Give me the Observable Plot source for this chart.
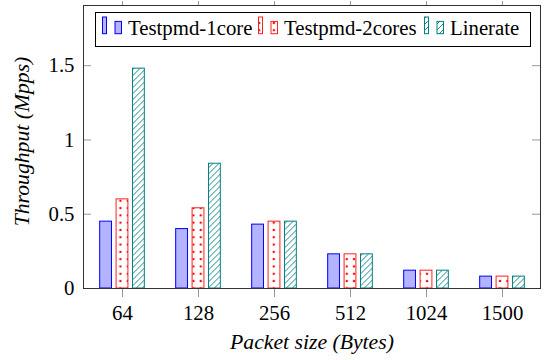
<!DOCTYPE html>
<html><head><meta charset="utf-8">
<script src="https://cdn.jsdelivr.net/npm/d3@7"></script>
<script src="https://cdn.jsdelivr.net/npm/@observablehq/plot@0.6"></script>
<style>
body{margin:0;background:#fff;}
#wrap{position:relative;width:546px;height:360px;font-family:'Liberation Serif';}
#wrap svg text{font-family:'Liberation Serif';}
#legend{position:absolute;left:95px;top:12px;}
</style></head><body>
<svg width="0" height="0" style="position:absolute">
<defs>
<pattern id="dots" patternUnits="userSpaceOnUse" width="7.3" height="7.3"><circle cx="3.65" cy="3.65" r="1.25" fill="#ff0000"/></pattern>
<pattern id="nelines" patternUnits="userSpaceOnUse" width="6" height="6"><path d="M-1.5,1.5 l3,-3 M0,6 l6,-6 M4.5,7.5 l3,-3" stroke="#008080" stroke-width="0.9"/></pattern>
</defs></svg>
<div id="wrap"></div>
<script>
const sizes = ["64", "128", "256", "512", "1024", "1500"];
const series = ["Testpmd-1core", "Testpmd-2cores", "Linerate"];
const core1 = [0.45, 0.40, 0.43, 0.23, 0.12, 0.08];
const core2 = [0.60, 0.54, 0.45, 0.23, 0.12, 0.08];
const linerate = [1.48, 0.84, 0.45, 0.23, 0.12, 0.08];
const yTicks = [0, 0.5, 1, 1.5];

const values = [core1, core2, linerate];
const fills = ["#b3b3ff", "url(#dots)", "url(#nelines)"];
const strokes = ["#0000ff", "#ff2020", "#008080"];
const offsets = [-16.4, 0, 16.4];

const W = 546, H = 360, ML = 83, MR = 6, MT = 5, MB = 72;
const innerW = W - ML - MR;
const band = innerW / sizes.length;
const inset = (band - 12) / 2;
const FS = 20.8;
const LFS = 21.7;
const FONT = "Liberation Serif";

const rows = series.map((s, i) => sizes.map((sz, j) => ({series: s, size: sz, value: values[i][j]})));

const marks = [];
rows.forEach((data, i) => {
  marks.push(Plot.barY(data, {x: "size", y: "value", fill: fills[i], stroke: strokes[i], strokeWidth: 1,
    insetLeft: inset, insetRight: inset, dx: offsets[i]}));
});
marks.push(Plot.ruleY(yTicks, {y: d => d, insetRight: innerW - 8, stroke: "#999"}));
marks.push(Plot.ruleY(yTicks, {y: d => d, insetLeft: innerW - 8, stroke: "#999"}));
marks.push(Plot.axisX({anchor: "bottom", tickSize: 9, tickPadding: 7.5, stroke: "#999", fill: "#000", fontSize: FS, label: null}));
marks.push(Plot.axisX({anchor: "top", tickSize: 5, stroke: "#999", tickFormat: () => "", label: null}));
marks.push(Plot.axisY({ticks: yTicks, tickSize: 0, tickPadding: 9, tickFormat: d => String(d), fontSize: FS, fill: "#000", label: null}));
marks.push(Plot.frame({stroke: "#333", strokeWidth: 1}));
marks.push(Plot.text(["Packet size (Bytes)"], {frameAnchor: "bottom", textAnchor: "middle", dy: 53.6, lineAnchor: "middle", fontStyle: "italic", fontSize: LFS, fill: "#000"}));
marks.push(Plot.text(["Throughput (Mpps)"], {frameAnchor: "left", textAnchor: "middle", rotate: -90, dx: -61, dy: -5.5, lineAnchor: "middle", fontStyle: "italic", fontSize: LFS, fill: "#000"}));

const chart = Plot.plot({
  width: W, height: H,
  marginLeft: ML, marginRight: MR, marginTop: MT, marginBottom: MB,
  style: {fontFamily: FONT, background: "#fff", overflow: "visible"},
  x: {type: "band", domain: sizes, padding: 0},
  y: {domain: [0, 1.905]},
  marks
});
const wrap = document.getElementById("wrap");
wrap.appendChild(chart);

// Legend (inside the plot area, top)
const legendItems = [7, 163, 329];
const ns = "http://www.w3.org/2000/svg";
const lg = document.createElementNS(ns, "svg");
lg.setAttribute("id", "legend");
lg.setAttribute("width", 436);
lg.setAttribute("height", 35);
const box = document.createElementNS(ns, "rect");
box.setAttribute("x", 0.5); box.setAttribute("y", 0.5);
box.setAttribute("width", 435); box.setAttribute("height", 34);
box.setAttribute("fill", "#fff"); box.setAttribute("stroke", "#000");
lg.appendChild(box);
series.forEach((s, i) => {
  const x0 = legendItems[i];
  [[x0, 4, 5], [x0 + 12.5, 6.5, 9.4]].forEach(([x, w, y]) => {
    const r = document.createElementNS(ns, "rect");
    r.setAttribute("x", x + 0.5); r.setAttribute("y", y);
    r.setAttribute("width", w); r.setAttribute("height", 21.7 - y);
    r.setAttribute("fill", fills[i]); r.setAttribute("stroke", strokes[i]);
    lg.appendChild(r);
  });
  const t = document.createElementNS(ns, "text");
  t.setAttribute("x", x0 + 26); t.setAttribute("y", 22.7);
  t.setAttribute("font-size", FS);
  t.setAttribute("font-family", FONT);
  t.textContent = s;
  lg.appendChild(t);
});
wrap.appendChild(lg);
</script>
</body></html>
